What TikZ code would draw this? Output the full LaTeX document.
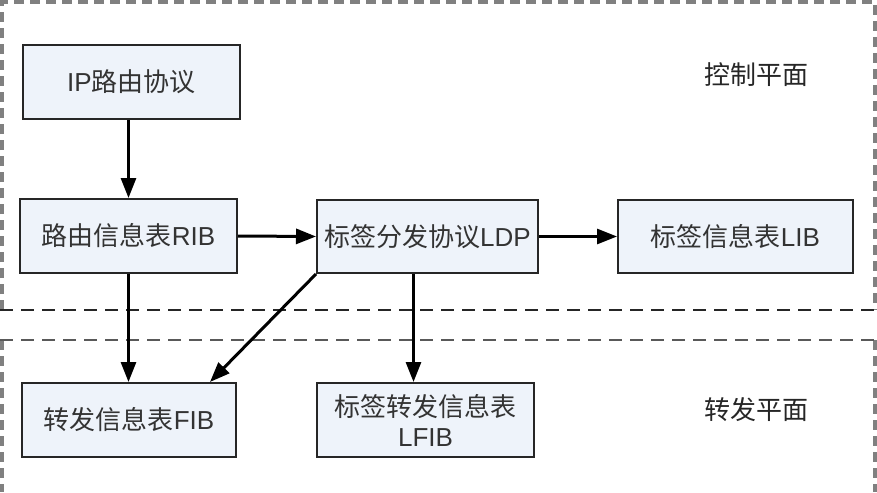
\documentclass[tikz,border=0pt]{standalone}
\usepackage{fontspec}
\setmainfont{Liberation Sans}
\newfontfamily\cjk{Noto Sans CJK SC}
\usetikzlibrary{arrows.meta}
\definecolor{boxfill}{HTML}{EEF3FA}
\definecolor{txt}{HTML}{333333}
\definecolor{framegray}{HTML}{808080}
\begin{document}
\begin{tikzpicture}[x=1pt,y=-1pt,
  box/.style={draw=black!85, line width=2pt, fill=boxfill, inner sep=0pt,
    text=txt, align=center, font=\fontsize{26}{30}\selectfont},
  lbl/.style={inner sep=0pt, text=black!85, font=\cjk\fontsize{26}{30}\selectfont},
  arr/.style={line width=3pt, draw=black, -{Triangle[length=20pt,width=15pt]}},
  outerframe/.style={draw=framegray, line width=4pt, dash pattern=on 10pt off 6pt},
  sepline/.style={line width=2pt, dash pattern=on 13pt off 8pt}]
\useasboundingbox (0,0) rectangle (877,492);

% plane frames
\draw[outerframe] (2,310) -- (2,2) -- (875,2) -- (875,310);
\draw[outerframe] (2,340) -- (2,492);
\draw[outerframe] (875,340) -- (875,492);
\draw[sepline, draw=black!85] (0,310) -- (877,310);
\draw[sepline, draw=black!65] (0,340) -- (877,340);

% boxes
\node[box, minimum width=217pt, minimum height=74pt] (ip) at (131.5,82) {IP{\cjk 路由协议}};
\node[box, minimum width=217pt, minimum height=74pt] (rib) at (128.5,236) {{\cjk 路由信息表}RIB};
\node[box, minimum width=221pt, minimum height=73pt] (ldp) at (427.5,236.5) {{\cjk 标签分发协议}LDP};
\node[box, minimum width=235pt, minimum height=73pt] (lib) at (735.5,236.5) {{\cjk 标签信息表}LIB};
\node[box, minimum width=214pt, minimum height=74pt] (fib) at (129,420) {{\cjk 转发信息表}FIB};
\node[box, minimum width=217pt, minimum height=74pt] (lfib) at (425.5,420) {{\cjk 标签转发信息表}\\LFIB};

% plane labels
\node[lbl] (ctrl) at (756,75) {控制平面};
\node[lbl] (fwd) at (756,410) {转发平面};

% connectors
\draw[arr] (ip.south -| rib.north) -- (rib.north);
\draw[arr] (rib.east) -- (ldp.west);
\draw[arr] (ldp.east) -- (lib.west);
\draw[arr] (rib.south) -- (rib.south |- fib.north);
\draw[arr] (ldp.south west) -- ([xshift=-27pt]fib.north east);
\draw[arr] ([xshift=-14pt]ldp.south) -- ([xshift=-14pt]ldp.south |- lfib.north);
\end{tikzpicture}
\end{document}
